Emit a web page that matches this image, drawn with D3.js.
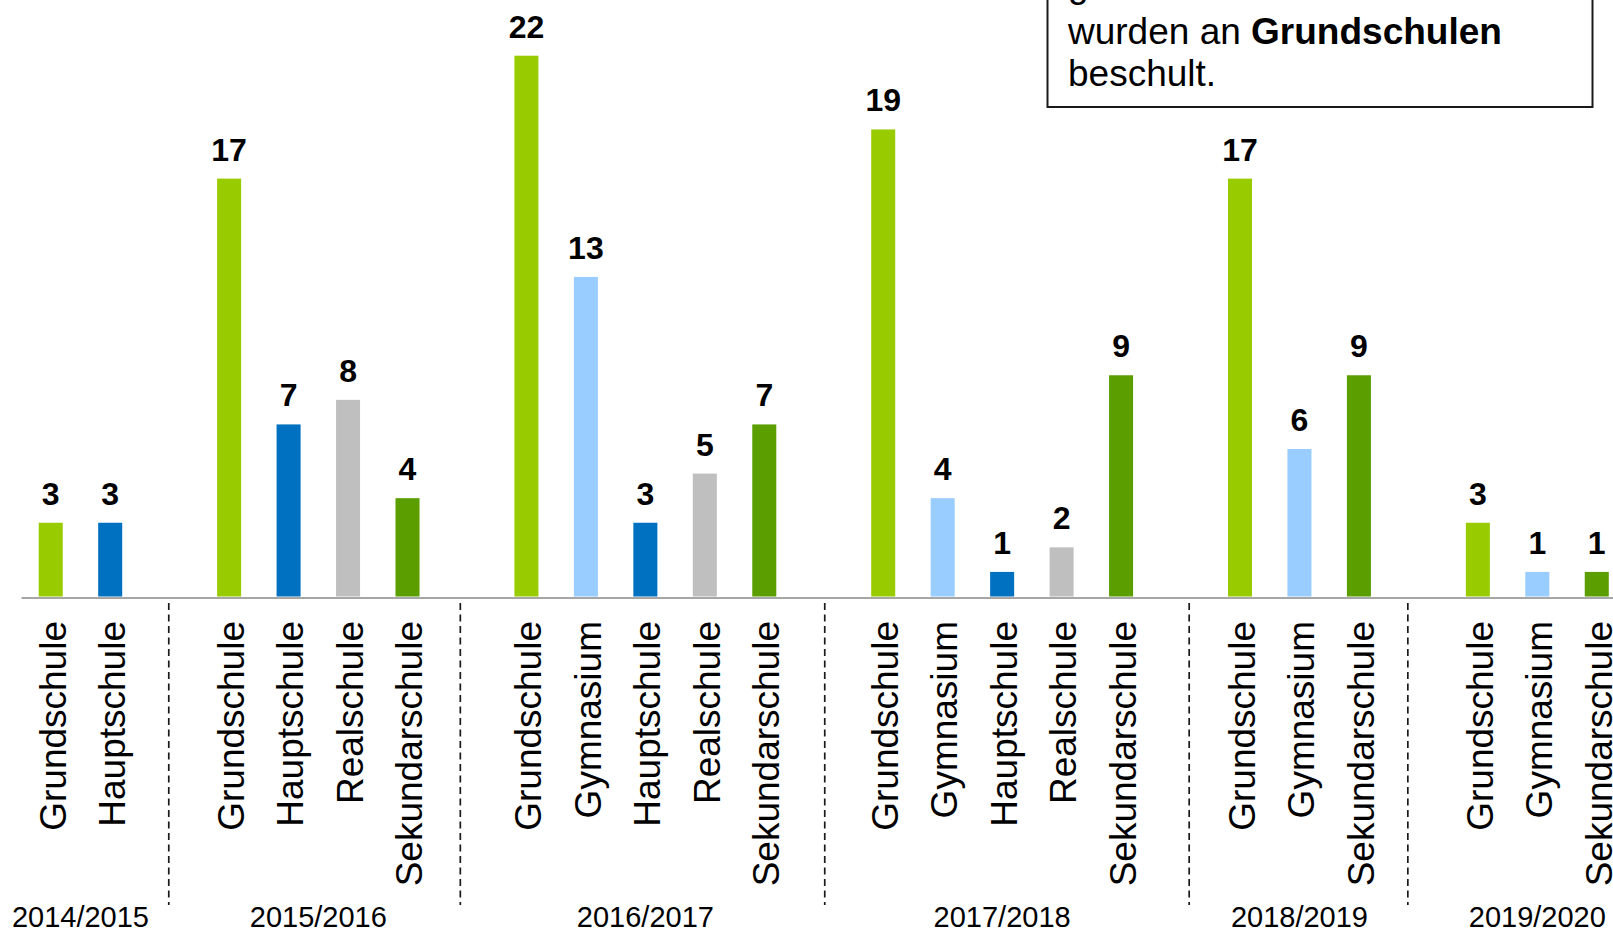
<!DOCTYPE html>
<html>
<head>
<meta charset="utf-8">
<script src="https://cdn.jsdelivr.net/npm/d3@7"></script>
<style>
  html, body { margin: 0; padding: 0; background: #fff; overflow: hidden; }
  svg { display: block; }
  text { font-family: "Liberation Sans", Arial, Helvetica, sans-serif; }
</style>
</head>
<body>
<svg id="chart" width="1613" height="931"></svg>
<script>
// ---- data ----
const years = ["2014/2015", "2015/2016", "2016/2017", "2017/2018", "2018/2019", "2019/2020"];
const barYear = [0, 0, 1, 1, 1, 1, 2, 2, 2, 2, 2, 3, 3, 3, 3, 3, 4, 4, 4, 5, 5, 5];
const barType = [
  "Grundschule", "Hauptschule",
  "Grundschule", "Hauptschule", "Realschule", "Sekundarschule",
  "Grundschule", "Gymnasium", "Hauptschule", "Realschule", "Sekundarschule",
  "Grundschule", "Gymnasium", "Hauptschule", "Realschule", "Sekundarschule",
  "Grundschule", "Gymnasium", "Sekundarschule",
  "Grundschule", "Gymnasium", "Sekundarschule"
];
const barValue = [3, 3, 17, 7, 8, 4, 22, 13, 3, 5, 7, 19, 4, 1, 2, 9, 17, 6, 9, 3, 1, 1];
const schoolTypes = ["Grundschule", "Gymnasium", "Hauptschule", "Realschule", "Sekundarschule"];
const typeColors = ["#99cc00", "#99ccff", "#0070c0", "#bfbfbf", "#5a9e00"];
const noteLines = [
  [{ t: "geflüchteten Kinder", b: false }],
  [{ t: "wurden an ", b: false }, { t: "Grundschulen", b: true }],
  [{ t: "beschult.", b: false }]
];

// ---- build slots: bars plus one empty slot between school years ----
const bars = barValue.map((v, i) => ({ value: v, type: barType[i], year: barYear[i], leaf: i }));
const slots = [];
years.forEach((yr, yi) => {
  if (yi > 0) slots.push("gap" + yi);
  bars.filter(b => b.year === yi).forEach(b => { b.slot = "bar" + b.leaf; slots.push(b.slot); });
});

const svg = d3.select("#chart");
const left = 21, right = 1626.5;

const x = d3.scaleBand().domain(slots).range([left, right]).paddingInner(0.596).paddingOuter(0.298);
const leafX = d3.scaleLinear().domain([0, bars.length]).range([left + 2, right]);
const y = d3.scaleLinear().domain([0, 22]).range([596.5, 55.7]);
const color = d3.scaleOrdinal().domain(schoolTypes).range(typeColors);

// bars
svg.append("g").selectAll("rect").data(bars).join("rect")
  .attr("x", d => x(d.slot))
  .attr("width", x.bandwidth())
  .attr("y", d => y(d.value))
  .attr("height", d => y(0) - y(d.value))
  .attr("fill", d => color(d.type));

// value labels
svg.append("g").selectAll("text").data(bars).join("text")
  .attr("x", d => x(d.slot) + x.bandwidth() / 2)
  .attr("y", d => y(d.value) - 18)
  .attr("text-anchor", "middle")
  .attr("font-size", 32)
  .attr("font-weight", "bold")
  .attr("fill", "#000")
  .text(d => d.value);

// category axis line
const axis = svg.append("g").attr("transform", `translate(0,${y(0) + 1})`)
  .call(d3.axisBottom(x).tickSize(0).tickFormat(""));
axis.select(".domain").attr("stroke", "#a6a6a6").attr("stroke-width", 2);
axis.selectAll(".tick").remove();

// school type labels (rotated)
svg.append("g").selectAll("text").data(bars).join("text")
  .attr("transform", d => `translate(${x(d.slot) + x.bandwidth() / 2},621) rotate(-90)`)
  .attr("text-anchor", "end")
  .attr("dy", "0.4em")
  .attr("font-size", 37)
  .attr("fill", "#000")
  .text(d => d.type);

// year separators (dashed) at leaf-category boundaries
const counts = years.map((_, yi) => bars.filter(b => b.year === yi).length);
const cum = d3.cumsum(counts);
svg.append("g").selectAll("line").data(cum.slice(0, -1)).join("line")
  .attr("x1", d => leafX(d)).attr("x2", d => leafX(d))
  .attr("y1", 603).attr("y2", 905)
  .attr("stroke", "#1a1a1a").attr("stroke-width", 1.7)
  .attr("stroke-dasharray", "7,4.5");

// year labels
svg.append("g").selectAll("text").data(years).join("text")
  .attr("x", (d, yi) => {
    const g = bars.filter(b => b.year === yi);
    const a = x(g[0].slot), b = x(g[g.length - 1].slot) + x.bandwidth();
    return (a + b) / 2;
  })
  .attr("y", 927)
  .attr("text-anchor", "middle")
  .attr("font-size", 29)
  .attr("fill", "#000")
  .text(d => d);

// note box (top right, partly cut off)
const box = svg.append("g");
box.append("rect")
  .attr("x", 1047.5).attr("y", -60)
  .attr("width", 545).attr("height", 167)
  .attr("fill", "#fff").attr("stroke", "#1a1a1a").attr("stroke-width", 2);
const noteText = box.append("text").attr("font-size", 37).attr("fill", "#000");
const noteY = [-3, 44, 86];
noteLines.forEach((line, li) => {
  line.forEach((part, pi) => {
    const ts = noteText.append("tspan").text(part.t).attr("font-weight", part.b ? "bold" : "normal");
    if (pi === 0) ts.attr("x", 1068).attr("y", noteY[li]);
  });
});
</script>
</body>
</html>
